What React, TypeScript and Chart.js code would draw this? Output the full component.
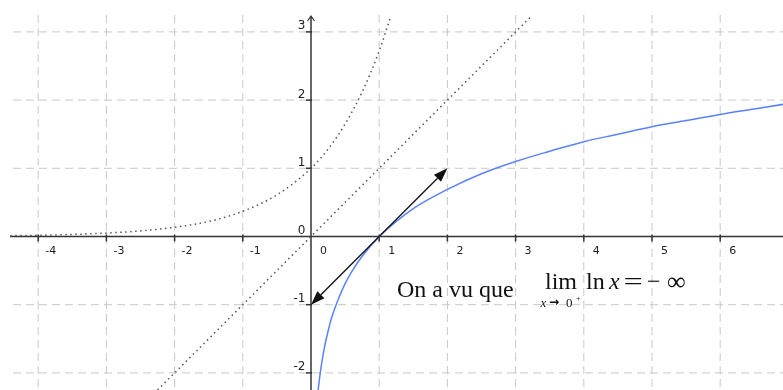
import React, { useEffect, useRef } from "react";
import { Chart, registerables } from "chart.js";

Chart.register(...registerables);

// Axis window (data units)
const xMin = -4.5601;
const xMax = 6.9208;
const yMin = -2.2508;
const yMax = 3.4677;

// Tick labels
const xTicks = [-4, -3, -2, -1, 0, 1, 2, 3, 4, 5, 6];
const yTicks = [-2, -1, 0, 1, 2, 3];

// y = ln x (blue)
const lnX = [0.08, 0.1, 0.12, 0.15, 0.2, 0.25, 0.3, 0.4, 0.5, 0.6, 0.75, 1, 1.25, 1.5, 2, 2.5, 3, 3.5, 4, 4.5, 5, 5.5, 6, 6.5, 7];
const lnY = [-2.53, -2.3, -2.12, -1.9, -1.61, -1.39, -1.2, -0.92, -0.69, -0.51, -0.29, 0, 0.22, 0.41, 0.69, 0.92, 1.1, 1.25, 1.39, 1.5, 1.61, 1.7, 1.79, 1.87, 1.95];

// y = e^x (dotted)
const expX = [-4.41, -4, -3.5, -3, -2.5, -2, -1.5, -1, -0.5, 0, 0.25, 0.5, 0.75, 1, 1.17];
const expY = [0.012, 0.018, 0.03, 0.05, 0.082, 0.135, 0.22, 0.37, 0.61, 1, 1.28, 1.65, 2.12, 2.72, 3.23];

// y = x (dotted)
const idX = [-2.25, 3.23];
const idY = [-2.25, 3.23];

// tangent vectors at (1, 0)
const tangentFrom = [1, 0];
const tangentTips = [
  [2, 1],
  [0, -1],
];

const toPts = (xs: number[], ys: number[]) => xs.map((x, i) => ({ x, y: ys[i] }));

// draw text so its ink starts at `left`; optionally stretch horizontally to width w
function placeGlyph(ctx: CanvasRenderingContext2D, s: string, left: number, base: number, w: number | null) {
  const m = ctx.measureText(s);
  const ink = m.actualBoundingBoxLeft + m.actualBoundingBoxRight;
  const sx = w && ink > 0 ? w / ink : 1;
  ctx.save();
  ctx.translate(left, base);
  ctx.scale(sx, 1);
  ctx.fillText(s, m.actualBoundingBoxLeft, 0);
  ctx.restore();
}

const decorPlugin = {
  id: "decor",
  beforeDatasetsDraw(chart: any) {
    const ctx = chart.ctx as CanvasRenderingContext2D;
    const xs = chart.scales.x;
    const ys = chart.scales.y;
    const area = chart.chartArea;
    const ox = xs.getPixelForValue(0);
    const oy = ys.getPixelForValue(0);
    const gridTop = 15;
    const gridLeft = 13;
    ctx.save();
    // grid
    ctx.strokeStyle = "#c8c8c8";
    ctx.lineWidth = 1;
    ctx.setLineDash([8, 5]);
    xTicks.forEach((v) => {
      if (v === 0) return;
      const px = xs.getPixelForValue(v);
      ctx.beginPath();
      ctx.moveTo(px, gridTop);
      ctx.lineTo(px, area.bottom);
      ctx.stroke();
    });
    yTicks.forEach((v) => {
      if (v === 0) return;
      const py = ys.getPixelForValue(v);
      ctx.beginPath();
      ctx.moveTo(gridLeft, py);
      ctx.lineTo(area.right, py);
      ctx.stroke();
    });
    ctx.setLineDash([]);
    // axes
    ctx.strokeStyle = "#333";
    ctx.lineWidth = 1.5;
    ctx.beginPath();
    ctx.moveTo(10, oy);
    ctx.lineTo(area.right, oy);
    ctx.stroke();
    ctx.beginPath();
    ctx.moveTo(ox, area.bottom);
    ctx.lineTo(ox, 16);
    ctx.stroke();
    // arrow chevron on y axis
    ctx.lineWidth = 1.2;
    ctx.beginPath();
    ctx.moveTo(ox - 3.5, 21);
    ctx.lineTo(ox, 16);
    ctx.lineTo(ox + 3.5, 21);
    ctx.stroke();
    // tick marks
    ctx.lineWidth = 1.5;
    xTicks.forEach((v) => {
      if (v === 0) return;
      const px = xs.getPixelForValue(v);
      ctx.beginPath();
      ctx.moveTo(px, oy - 2);
      ctx.lineTo(px, oy + 5);
      ctx.stroke();
    });
    yTicks.forEach((v) => {
      if (v === 0) return;
      const py = ys.getPixelForValue(v);
      ctx.beginPath();
      ctx.moveTo(ox - 5, py);
      ctx.lineTo(ox + 1, py);
      ctx.stroke();
    });
    // labels
    ctx.fillStyle = "#222";
    ctx.font = '11px "DejaVu Sans"';
    ctx.textAlign = "center";
    ctx.textBaseline = "alphabetic";
    xTicks.forEach((v) => {
      const px = xs.getPixelForValue(v);
      ctx.fillText(String(v), px + 12.5, oy + 17.5);
    });
    ctx.font = '12px "DejaVu Sans"';
    ctx.textAlign = "right";
    yTicks.forEach((v) => {
      const py = ys.getPixelForValue(v);
      ctx.fillText(String(v), ox - 5.5, py - 2.5);
    });
    ctx.restore();
  },
  afterDatasetsDraw(chart: any) {
    const ctx = chart.ctx as CanvasRenderingContext2D;
    const xs = chart.scales.x;
    const ys = chart.scales.y;
    ctx.save();
    // tangent arrows
    const fx = xs.getPixelForValue(tangentFrom[0]);
    const fy = ys.getPixelForValue(tangentFrom[1]);
    ctx.strokeStyle = "#111";
    ctx.fillStyle = "#111";
    ctx.lineWidth = 1.3;
    tangentTips.forEach(([tx, ty]) => {
      const px = xs.getPixelForValue(tx);
      const py = ys.getPixelForValue(ty);
      const ang = Math.atan2(py - fy, px - fx);
      const len = 14;
      const hw = 5;
      const bx = px - len * Math.cos(ang);
      const by = py - len * Math.sin(ang);
      ctx.beginPath();
      ctx.moveTo(fx, fy);
      ctx.lineTo(bx, by);
      ctx.stroke();
      ctx.beginPath();
      ctx.moveTo(px, py);
      ctx.lineTo(bx + hw * Math.sin(ang), by - hw * Math.cos(ang));
      ctx.lineTo(bx - hw * Math.sin(ang), by + hw * Math.cos(ang));
      ctx.closePath();
      ctx.fill();
    });
    // text
    ctx.fillStyle = "#111";
    ctx.textAlign = "left";
    ctx.textBaseline = "alphabetic";
    const serif = '"Liberation Serif", "Times New Roman", serif';
    ctx.font = `24px ${serif}`;
    ctx.fillText("On a vu que", 397, 297);
    placeGlyph(ctx, "lim", 545, 289, null);
    placeGlyph(ctx, "ln", 586, 289, null);
    ctx.font = `italic 24px ${serif}`;
    placeGlyph(ctx, "x", 608, 289, null);
    ctx.font = `24px ${serif}`;
    placeGlyph(ctx, "=", 625, 289, 17);
    placeGlyph(ctx, "\u2212", 648, 289, 12);
    ctx.font = `26px ${serif}`;
    placeGlyph(ctx, "\u221E", 667, 290, null);
    ctx.font = `italic 13px ${serif}`;
    ctx.fillText("x", 540.5, 307);
    ctx.font = `bold 12px "DejaVu Sans"`;
    ctx.fillText("\u2192", 549, 306);
    ctx.font = `13px ${serif}`;
    ctx.fillText("0", 566, 307);
    ctx.font = `8px ${serif}`;
    ctx.fillText("+", 576, 301);
    ctx.restore();
  },
};

export default function App() {
  const ref = useRef<HTMLCanvasElement | null>(null);
  useEffect(() => {
    if (!ref.current) return;
    const chart = new Chart(ref.current, {
      type: "scatter",
      data: {
        datasets: [
          {
            data: toPts(expX, expY),
            showLine: true,
            borderColor: "#555",
            borderWidth: 1.5,
            borderDash: [1.5, 3.5],
            pointRadius: 0,
            cubicInterpolationMode: "monotone",
          },
          {
            data: toPts(idX, idY),
            showLine: true,
            borderColor: "#555",
            borderWidth: 1.5,
            borderDash: [1.5, 3.5],
            pointRadius: 0,
          },
          {
            data: toPts(lnX, lnY),
            showLine: true,
            borderColor: "rgb(90,130,255)",
            borderWidth: 1.5,
            pointRadius: 0,
            cubicInterpolationMode: "monotone",
          },
        ],
      },
      options: {
        animation: false,
        responsive: false,
        events: [],
        layout: { padding: 0 },
        plugins: { legend: { display: false }, tooltip: { enabled: false } },
        scales: {
          x: { type: "linear", display: false, min: xMin, max: xMax },
          y: { type: "linear", display: false, min: yMin, max: yMax },
        },
      },
      plugins: [decorPlugin],
    } as any);
    return () => chart.destroy();
  }, []);
  return (
    <div style={{ position: "absolute", left: 0, top: 0, width: 783, height: 390, background: "#fff" }}>
      <canvas ref={ref} width={783} height={390} style={{ display: "block" }} />
    </div>
  );
}
